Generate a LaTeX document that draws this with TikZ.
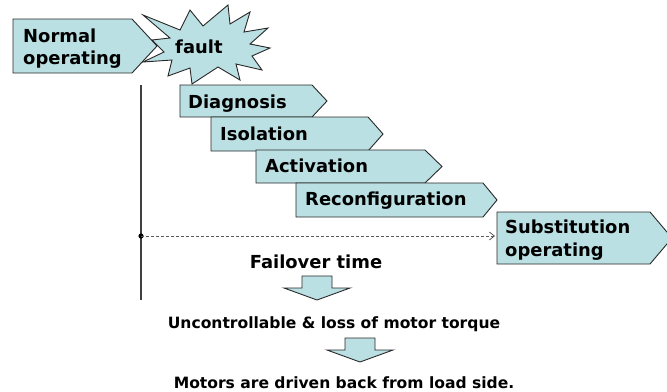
\documentclass[tikz,border=0pt]{standalone}
\usepackage{fontspec}
\setmainfont{DejaVu Sans}
\usetikzlibrary{arrows.meta}
\definecolor{boxfill}{RGB}{187,224,227}
\definecolor{boxline}{RGB}{40,40,40}
\tikzset{
  stepshape/.style={fill=boxfill, draw=boxline, line width=0.9bp, line join=miter},
  label/.style={inner sep=0pt, font=\bfseries\fontsize{18}{22}\selectfont},
  smalllabel/.style={inner sep=0pt, font=\bfseries\fontsize{15.6}{19}\selectfont},
  downarrow/.style={fill=boxfill, draw=boxline, line width=0.9bp},
  timeline/.style={draw=black!75, line width=1.4bp},
  failover/.style={draw=black!65, dashed, line width=0.8bp, dash pattern=on 3bp off 2bp,
    -{Straight Barb[length=5bp,width=8bp]}}
}
% pentagon tag: left, top, right of body, bottom, tip x
\newcommand\tagshape[5]{%
  \path[stepshape] (#1,#2) -- (#3,#2) -- (#5,{(#2+#4)/2}) -- (#3,#4) -- (#1,#4) -- cycle;}
% block arrow pointing down: centre x, shaft top, head base, tip y
\newcommand\blockdown[4]{%
  \path[downarrow] (#1-15,#2) -- (#1+15,#2) -- (#1+15,#3) -- (#1+33,#3) -- (#1,#4)
    -- (#1-33,#3) -- (#1-15,#3) -- cycle;}
\begin{document}
\begin{tikzpicture}[x=1bp,y=-1bp]
\useasboundingbox (0,0) rectangle (667,391);

% normal operation
\tagshape{13}{19}{132}{73}{157}
\node[label, anchor=base west] (normal) at (23,42) {Normal};
\node[label, anchor=base west] (normal2) at (23,64) {operating};

% the fault burst
\path[stepshape] (143,15) -- (180,30) -- (190,10) -- (203,26) -- (228,5) -- (230,24)
  -- (250,12) -- (244,32) -- (268,28) -- (250,44) -- (270,48) -- (252,56)
  -- (262,70) -- (236,64) -- (240,80) -- (218,67) -- (192,84) -- (190,68)
  -- (168,76) -- (172,60) -- (143,62) -- (164,52) -- (152,40) -- (170,38) -- cycle;
\node[label, anchor=base west] (fault) at (175,53) {fault};

% recovery steps
\tagshape{180}{85}{312}{117}{327}
\node[label, anchor=base west] (diag) at (188,108) {Diagnosis};
\tagshape{211}{117}{368}{151}{383}
\node[label, anchor=base west] (iso) at (220,140) {Isolation};
\tagshape{256}{150}{425}{183}{442}
\node[label, anchor=base west] (act) at (265,172) {Activation};
\tagshape{296}{183}{483}{217}{497}
\node[label, anchor=base west] (reconf) at (305,205) {Reconfiguration};

% substitution operation
\tagshape{497}{212}{650}{264}{672}
\node[label, anchor=base west] (subst) at (505,233) {Substitution};
\node[label, anchor=base west] (subst2) at (505,256) {operating};
\coordinate (substin) at (495,236);

% time axis and failover interval
\coordinate (axtop) at (141,85);
\coordinate (axbot) at (141,300);
\draw[timeline] (axtop) -- (axbot);
\coordinate (fstart) at (141,236);
\fill[black] (fstart) circle (2.6bp);
\draw[failover] (fstart) -- (substin);
\node[label, anchor=base] (ftime) at (316,268) {Failover time};

% consequences
\blockdown{317}{276}{288}{300}
\node[smalllabel, anchor=base] (uncont) at (334,328) {Uncontrollable \& loss of motor torque};
\blockdown{360}{338}{350}{362}
\node[smalllabel, anchor=base] (motors) at (344,388) {Motors are driven back from load side.};
\end{tikzpicture}
\end{document}
